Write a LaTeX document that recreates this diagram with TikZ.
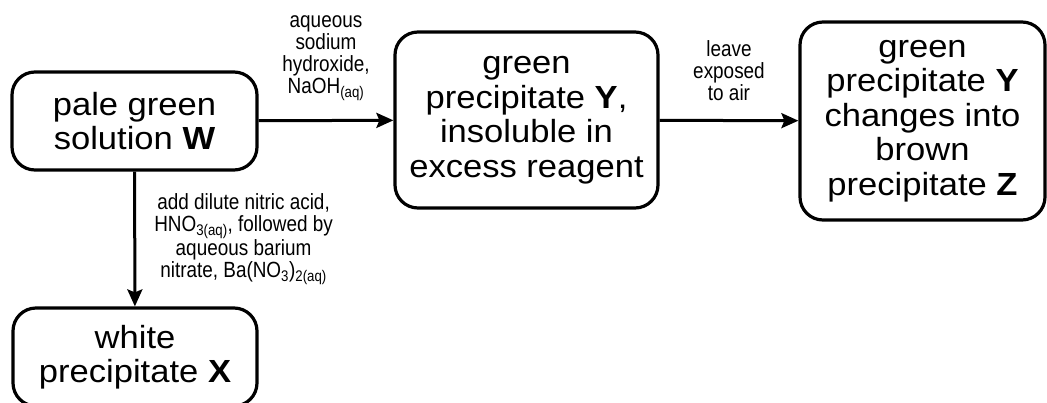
\documentclass[tikz,border=0pt]{standalone}
\usepackage{fontspec}
\setmainfont{Liberation Sans}
\newfontfamily\stagefont[FakeStretch=1.08]{Liberation Sans}
\newfontfamily\condfont[FakeStretch=0.86]{Liberation Sans}
\usetikzlibrary{arrows.meta}

\begin{document}
\begin{tikzpicture}[x=1pt, y=-1pt,
    stage/.style={draw, line width=3.2pt, rounded corners=23pt, align=center, inner sep=0pt,
      font=\stagefont\fontsize{32}{34.5}\selectfont},
    cond/.style={align=center, inner sep=0pt, font=\condfont\fontsize{22}{22}\selectfont},
    flow/.style={-{Stealth[length=17pt, width=15pt, inset=3pt]}, line width=3pt}]
  \useasboundingbox (0,0) rectangle (1047,402);

  % solution W and what it gives
  \node[stage, minimum width=245, minimum height=98] (solW) at (134.5,121) {pale green\\solution \textbf{W}};
  \node[stage, minimum width=263, minimum height=176] (precY) at (526.5,120)
    {green\\precipitate \textbf{Y},\\insoluble in\\excess reagent};
  \node[stage, minimum width=245, minimum height=198] (precZ) at (922.5,121)
    {green\\precipitate \textbf{Y}\\changes into\\brown\\precipitate \textbf{Z}};
  \node[stage, minimum width=244, minimum height=98] (precX) at (135,357) {white\\precipitate \textbf{X}};

  % reagents on the arrows
  \draw[flow] (solW) -- node[cond, above=18pt] {aqueous\\sodium\\hydroxide,\\NaOH\textsubscript{(aq)}} (precY);
  \draw[flow] (precY) -- node[cond, above=18pt] {leave\\exposed\\to air} (precZ);
  \draw[flow] (solW) -- node[cond, right=18pt] {add dilute nitric acid,\\HNO\textsubscript{3(aq)}, followed by\\aqueous barium\\nitrate, Ba(NO\textsubscript{3})\textsubscript{2(aq)}} (precX);
\end{tikzpicture}
\end{document}
